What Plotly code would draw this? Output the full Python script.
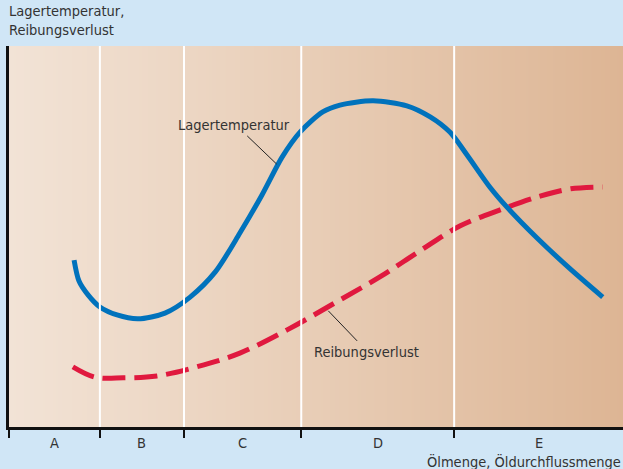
import numpy as np
import plotly.graph_objects as go

# Operating ranges A–E along the oil quantity axis (boundaries in axis units 0–100)
zone_bounds = [0, 14.8, 28.5, 47.6, 72.5, 100]
zone_labels = ["A", "B", "C", "D", "E"]

# Bearing temperature curve
temp_x = [10.6, 11.4, 12.9, 14.8, 17.6, 21.0, 25.4, 29.5, 33.6, 37.6, 41.2, 44.5,
          47.4, 51.1, 53.9, 59.3, 64.8, 68.6, 71.8, 74.6, 78.3, 81.1, 86.0, 91.4, 96.7]
temp_y = [43.8, 38.3, 34.6, 31.5, 29.4, 28.4, 29.9, 34.1, 40.7, 50.9, 60.9, 70.9,
          77.4, 82.7, 84.5, 85.6, 84.3, 81.4, 77.4, 71.4, 63.0, 57.7, 49.6, 41.5, 34.1]

# Friction loss curve
loss_x = [10.4, 14.0, 18.6, 24.1, 30.6, 37.6, 45.3, 53.1, 60.4, 66.9, 73.5, 80.0,
          86.5, 91.4, 96.7]
loss_y = [15.8, 13.1, 12.9, 13.4, 15.8, 19.4, 25.5, 32.6, 39.4, 46.2, 52.8, 57.0,
          60.6, 62.5, 63.0]

BG = "#d0e6f6"
TEXT = "#333333"
FONT = "Liberation Sans Narrow, DejaVu Sans Condensed, Arial Narrow, sans-serif"

fig = go.Figure()

# Warm left-to-right gradient filling the plot area
gx = np.linspace(0, 100, 101)
fig.add_trace(go.Heatmap(
    x=gx, y=[0, 100], z=[gx, gx],
    colorscale=[[0, "#f2e3d6"], [0.5, "#e8cdb6"], [1, "#ddb594"]],
    zsmooth="best", showscale=False, hoverinfo="skip",
))

fig.add_trace(go.Scatter(
    x=loss_x, y=loss_y, mode="lines",
    line=dict(color="#e0193f", width=5, dash="23px,9px", shape="spline", smoothing=1.0),
    hoverinfo="skip", showlegend=False,
))
fig.add_trace(go.Scatter(
    x=temp_x, y=temp_y, mode="lines",
    line=dict(color="#0072bc", width=5, shape="spline", smoothing=0.8),
    hoverinfo="skip", showlegend=False,
))

shapes = []
# White separators between the zones
for b in zone_bounds[1:-1]:
    shapes.append(dict(type="line", xref="x", yref="paper", x0=b, x1=b, y0=0, y1=1,
                       line=dict(color="white", width=2), layer="above"))
# Leader lines for the curve labels
shapes.append(dict(type="line", xref="x", yref="y", x0=38.8, y0=76.4, x1=43.6, y1=69.0,
                   line=dict(color="#222222", width=1)))
shapes.append(dict(type="line", xref="x", yref="y", x0=52.0, y0=30.5, x1=56.7, y1=22.6,
                   line=dict(color="#222222", width=1)))

annotations = [
    dict(text="Lagertemperatur", x=36.6, y=79.3, xref="x", yref="y", showarrow=False,
         font=dict(size=14.5, color=TEXT, family=FONT)),
    dict(text="Reibungsverlust", x=58.3, y=19.7, xref="x", yref="y", showarrow=False,
         font=dict(size=14.5, color=TEXT, family=FONT)),
    dict(text="Lagertemperatur,<br>Reibungsverlust", x=0, y=1, xref="paper", yref="paper",
         xanchor="left", yanchor="bottom", align="left", xshift=-2, yshift=6, showarrow=False,
         font=dict(size=14.5, color=TEXT, family=FONT)),
    dict(text="Ölmenge, Öldurchflussmenge", x=1, y=0, xref="paper", yref="paper",
         xanchor="right", yanchor="top", yshift=-24, showarrow=False,
         font=dict(size=14.5, color=TEXT, family=FONT)),
]
for i, lab in enumerate(zone_labels):
    annotations.append(dict(text=lab, x=(zone_bounds[i] + zone_bounds[i + 1]) / 2, y=0,
                            xref="x", yref="paper", yanchor="top", yshift=-6, showarrow=False,
                            font=dict(size=14.5, color=TEXT, family=FONT)))

fig.update_layout(
    width=623, height=469,
    margin=dict(l=9, r=0, t=46, b=42),
    paper_bgcolor=BG, plot_bgcolor=BG,
    shapes=shapes, annotations=annotations,
    showlegend=False,
    xaxis=dict(range=[0, 100], showgrid=False, zeroline=False, showline=True,
               linecolor="#111111", linewidth=3, ticks="outside", ticklen=8, tickwidth=2,
               tickcolor="#111111", tickvals=zone_bounds[:-1], ticktext=[""] * 5,
               fixedrange=True),
    yaxis=dict(range=[0, 100], showgrid=False, zeroline=False, showline=True,
               linecolor="#111111", linewidth=3, showticklabels=False, ticks="",
               fixedrange=True),
)

fig.write_html("out.html", config={"displayModeBar": False})
